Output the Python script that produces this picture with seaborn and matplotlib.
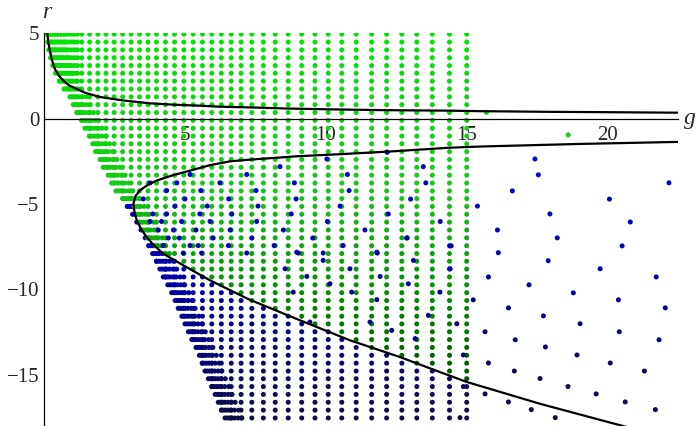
"""Scan of (g, r) points with the two boundary curves."""

import matplotlib

matplotlib.use("Agg")
import matplotlib.pyplot as plt
import numpy as np
import pandas as pd
import seaborn as sns
from matplotlib.colors import LinearSegmentedColormap
from matplotlib.ticker import MultipleLocator

# rows of the scan (r values), top to bottom
row_r = [4.95, 4.49, 4.03, 3.57, 3.11, 2.66, 2.20, 1.74, 1.28, 0.82,
         0.36, -0.10, -0.56, -1.02, -1.47, -1.93, -2.39, -2.85, -3.31, -3.77,
         -4.23, -4.68, -5.14, -5.60, -6.06, -6.52, -6.98, -7.44, -7.90, -8.35,
         -8.81, -9.27, -9.73, -10.19, -10.65, -11.11, -11.57, -12.02, -12.48, -12.94,
         -13.40, -13.86, -14.32, -14.78, -15.23, -15.69, -16.15, -16.61, -17.07, -17.53]
# first g value of every row
row_left = [0.12, 0.14, 0.18, 0.24, 0.32, 0.42, 0.55, 0.72, 0.93, 1.05,
            1.17, 1.35, 1.46, 1.62, 1.74, 1.84, 2.00, 2.11, 2.29, 2.41,
            2.56, 2.80, 2.96, 3.15, 3.30, 3.45, 3.60, 3.72, 3.86, 4.00,
            4.12, 4.24, 4.40, 4.54, 4.66, 4.77, 4.90, 5.01, 5.13, 5.25,
            5.40, 5.52, 5.62, 5.72, 5.84, 5.96, 6.08, 6.19, 6.31, 6.43]
# columns of the scan (g values)
col_g = [0.12, 0.2, 0.3, 0.4, 0.5, 0.6, 0.7, 0.8, 0.9, 1.0, 1.1, 1.2,
         1.35, 1.63, 1.92, 2.21, 2.5, 2.8, 3.1, 3.4, 3.7, 4.0, 4.32, 4.64,
         4.97, 5.3, 5.63, 5.96, 6.3, 6.65, 7.0, 7.38, 7.79, 8.21, 8.67, 9.15,
         9.62, 10.09, 10.57, 11.08, 11.63, 12.16, 12.70, 13.23, 13.78, 14.39, 15.0]
# crowded points at the left end of each row (offsets in g)
cluster_dg = [0.0, 0.08, 0.16, 0.24, 0.34, 0.46, 0.6]

# sparse blue points
blue_g = [17.42, 17.54, 22.17, 16.62, 20.06, 15.38, 17.95, 20.80, 16.09, 18.21,
          20.51, 16.12, 17.89, 19.73, 15.77, 21.72, 17.21, 18.78, 15.23, 20.38,
          16.48, 22.04, 17.72, 19.02, 14.65, 15.65, 20.41, 16.72, 21.82, 17.79,
          14.88, 18.91, 15.77, 20.09, 16.69, 21.30, 17.60, 14.88, 18.59, 15.65,
          19.59, 16.48, 20.62, 17.29, 21.69, 18.14, 14.76, 14.40, 14.40,
          13.46, 13.55, 13.01, 14.06, 12.89, 14.45,
          10.04, 12.18, 8.38, 5.19, 7.20, 10.77, 3.77, 4.72, 6.25, 8.89,
          4.36, 5.57, 7.53, 10.83, 3.53, 5.01, 6.56, 8.95, 4.66, 5.80,
          7.60, 10.51, 3.87, 4.36, 5.54, 6.67, 8.78, 12.22, 3.77, 4.18,
          4.89, 5.90, 7.55, 10.06, 4.06, 4.60, 5.40, 6.61, 8.50, 11.39,
          4.42, 4.81, 6.01, 7.38, 9.54, 12.87, 4.24, 5.19, 5.48, 6.55,
          8.17, 10.62, 4.95, 5.60, 7.20, 9.03, 9.91, 11.83,
          8.97, 11.81, 8.56, 9.91, 10.86, 13.11, 14.41, 9.33, 11.93, 10.15,
          12.93, 8.85, 10.92, 14.05, 11.81, 9.44, 11.57, 13.64, 12.34, 13.17]
blue_r = [-2.36, -3.29, -3.76, -4.23, -4.71, -5.12, -5.58, -6.05, -6.52, -6.98,
          -7.45, -7.85, -8.32, -8.79, -9.27, -9.27, -9.73, -10.20, -10.61, -10.61,
          -11.08, -11.08, -11.55, -12.01, -12.01, -12.48, -12.48, -12.95, -12.95, -13.37,
          -13.84, -13.84, -14.31, -14.31, -14.78, -14.78, -15.22, -15.69, -15.69, -16.12,
          -16.12, -16.59, -16.59, -17.04, -17.04, -17.51, -17.51, -7.45, -8.79,
          -2.81, -3.76, -4.71, -6.02, -6.98, -7.45,
          -2.36, -1.97, -2.81, -3.27, -3.27, -3.27, -3.76, -3.76, -3.76, -3.76,
          -4.21, -4.21, -4.21, -4.21, -4.70, -4.70, -4.70, -4.70, -5.12, -5.12,
          -5.12, -5.12, -5.58, -5.58, -5.58, -5.58, -5.58, -5.58, -6.02, -6.02,
          -6.02, -6.02, -6.02, -6.02, -6.52, -6.52, -6.52, -6.52, -6.52, -6.52,
          -6.99, -6.99, -6.99, -6.99, -6.99, -6.99, -7.43, -7.43, -7.43, -7.43,
          -7.43, -7.43, -7.87, -7.87, -7.87, -7.87, -7.87, -7.87,
          -7.82, -7.82, -8.79, -8.30, -8.79, -8.30, -8.79, -9.24, -9.24, -9.67,
          -9.67, -10.16, -10.16, -10.16, -10.60, -11.91, -11.91, -11.52, -12.40, -12.88]

# stray green points right of g = 15
green_extra_g = [15.7, 18.6]
green_extra_r = [0.37, -0.95]

# upper boundary curve
upper_g = [0.13, 0.16, 0.22, 0.30, 0.40, 0.55, 0.70, 0.90, 1.17, 1.50, 2.0, 2.8,
           3.77, 4.6, 5.54, 6.25, 7.32, 8.5, 10.03, 12.0, 14.4, 15.47, 18.0, 20.0, 22.5]
upper_r = [5.05, 4.50, 3.98, 3.40, 2.90, 2.50, 2.22, 1.95, 1.74, 1.50, 1.27, 1.07,
           0.90, 0.82, 0.76, 0.70, 0.66, 0.60, 0.55, 0.50, 0.47, 0.44, 0.40, 0.38, 0.35]

# lower boundary curve, from the top right end round the nose to the bottom
lower_g = [22.5, 19.0, 15.5, 14.4, 12.2, 10.5, 9.0, 7.3, 6.6, 5.9, 5.2, 4.6, 4.0,
           3.7, 3.41, 3.25, 3.18, 3.22, 3.30, 3.45, 3.65, 3.90, 4.24, 5.07, 5.9,
           7.3, 9.09, 10.86, 12.63, 14.05, 15.0, 17.6, 20.2, 21.0]
lower_r = [-1.36, -1.48, -1.63, -1.70, -1.93, -2.08, -2.20, -2.40, -2.50, -2.72,
           -3.04, -3.30, -3.63, -3.87, -4.20, -4.55, -5.00, -5.45, -5.96, -6.45,
           -6.94, -7.40, -7.91, -8.70, -9.47, -10.60, -11.81, -12.98, -13.96, -14.84,
           -15.42, -16.70, -17.85, -18.20]

green_cmap = LinearSegmentedColormap.from_list(
    "greens", [(0.0, "#003c00"), (0.33, "#009000"), (0.6, "#16c816"), (1.0, "#00e400")]
)
blue_cmap = LinearSegmentedColormap.from_list(
    "blues", [(0.0, "#0c0c46"), (0.33, "#0000a0"), (0.7, "#0000e0"), (1.0, "#0000f0")]
)

# grid points
pts = []
for r, left in zip(row_r, row_left):
    gs = [g for g in col_g if left - 0.01 <= g <= 15.0] + [left + d for d in cluster_dg]
    for g in gs:
        pts.append((g, r))
grid = pd.DataFrame(pts, columns=["g", "r"])

nose = int(np.argmin(lower_g))
branch_g = lower_g[nose:]
branch_r = lower_r[nose:]
below = grid["r"] < np.interp(grid["g"], branch_g, branch_r)
green_df = pd.concat(
    [grid[~below], pd.DataFrame({"g": green_extra_g, "r": green_extra_r})],
    ignore_index=True,
)
blue_df = grid[below]
blue_extra = pd.DataFrame({"g": blue_g, "r": blue_r})

sns.set_style("white")
plt.rcParams["font.family"] = ["Liberation Serif", "DejaVu Serif"]

fig = plt.figure(figsize=(7.0, 4.26), dpi=100)
ax = fig.add_axes([0.0624, 0.0, 0.9057, 0.9218])

dot = dict(s=13, linewidth=0, legend=False, ax=ax, hue_norm=(-17.5, 5.0))
sns.scatterplot(data=blue_df, x="g", y="r", hue="r", palette=blue_cmap, **dot)
sns.scatterplot(data=green_df, x="g", y="r", hue="r", palette=green_cmap, **dot)
sns.scatterplot(data=blue_extra, x="g", y="r", hue="r", palette=blue_cmap, **dot)

sns.lineplot(x=upper_g, y=upper_r, sort=False, estimator=None, color="black",
             linewidth=1.6, ax=ax, zorder=4)
sns.lineplot(x=lower_g, y=lower_r, sort=False, estimator=None, color="black",
             linewidth=1.6, ax=ax, zorder=4)

ax.set_xlim(0, 22.48)
ax.set_ylim(-18.0, 5.0)
ax.set_xlabel("")
ax.set_ylabel("")
for side in ("top", "right"):
    ax.spines[side].set_visible(False)
ax.spines["bottom"].set_position(("data", 0))
for side in ("left", "bottom"):
    ax.spines[side].set_linewidth(0.9)
    ax.spines[side].set_color("black")
    ax.spines[side].set_zorder(5)

ax.set_xticks([5, 10, 15, 20])
ax.set_yticks([-15, -10, -5, 0, 5])
ax.set_yticklabels(["\u221215", "\u221210", "\u22125", "0", "5"])
ax.xaxis.set_minor_locator(MultipleLocator(1))
ax.yaxis.set_minor_locator(MultipleLocator(1))
ax.tick_params(axis="both", which="both", direction="in", color="black",
               labelsize=15, width=0.8)
ax.tick_params(axis="x", which="major", length=5, pad=5)
ax.tick_params(axis="y", which="major", length=5, pad=3)
ax.tick_params(which="minor", length=3)

ax.text(22.92, 0.0, "g", fontsize=17, style="italic", ha="center", va="center")
ax.text(0.12, 6.2, "r", fontsize=17, style="italic", ha="center", va="center")

fig.savefig("out.png", dpi=100)
plt.close(fig)
